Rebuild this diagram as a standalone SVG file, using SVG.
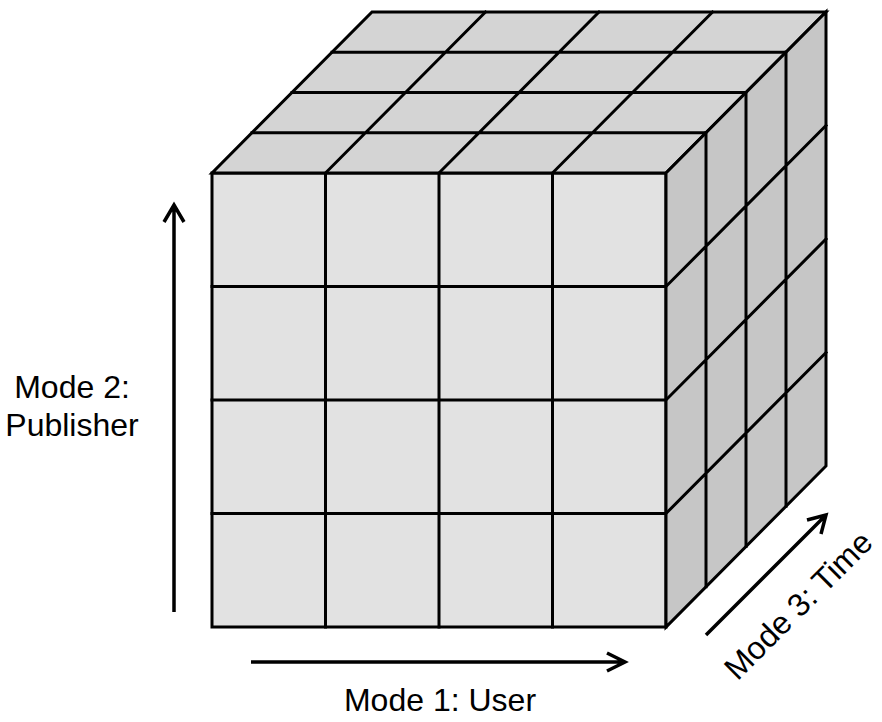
<svg xmlns="http://www.w3.org/2000/svg" width="882" height="722" viewBox="0 0 882 722">
<style>
.g{stroke:#000;stroke-width:3;fill:none;stroke-linecap:square}
.front{fill:#e2e2e2}
.top{fill:#d4d4d4}
.side{fill:#c6c6c6}
.ax{stroke:#000;stroke-width:3.5;fill:none}
.lbl{font-family:"Liberation Sans",Arial,sans-serif;font-size:32px;fill:#000;text-anchor:middle}
</style>
<rect width="882" height="722" fill="#fff"/>
<g id="cube">
<g id="front-face">
<rect class="front" x="212" y="173" width="454" height="454"/>
<path class="g" d="M325.5 173V627M439 173V627M552.5 173V627M212 286.5H666M212 400H666M212 513.5H666"/>
<rect class="g" x="212" y="173" width="454" height="454"/>
</g>
<g id="top-face">
<polygon class="top" points="212,173 666,173 826,12 372,12"/>
<path class="g" d="M252 132.75H706M292 92.5H746M332 52.25H786M325.5 173L485.5 12M439 173L599 12M552.5 173L712.5 12"/>
<polygon class="g" points="212,173 666,173 826,12 372,12"/>
</g>
<g id="side-face">
<polygon class="side" points="666,173 826,12 826,466 666,627"/>
<path class="g" d="M706 132.75V586.75M746 92.5V546.5M786 52.25V506.25M666 286.5L826 125.5M666 400L826 239M666 513.5L826 352.5"/>
<polygon class="g" points="666,173 826,12 826,466 666,627"/>
</g>
</g>
<g id="connectors">
<path class="ax" d="M174 612V205M164 222L174 205L184 222"/>
<path class="ax" d="M251 662H624M607 653L625 662L607 671"/>
<path class="ax" d="M706 635L825 516M807 520L826 515L821 534"/>
</g>
<g id="labels">
<text class="lbl" x="440" y="711">Mode 1: User</text>
<text class="lbl" x="72" y="398">Mode 2:</text>
<text class="lbl" x="72" y="436">Publisher</text>
<text class="lbl" x="806" y="613" transform="rotate(-45 806 613)">Mode 3: Time</text>
</g>
</svg>
